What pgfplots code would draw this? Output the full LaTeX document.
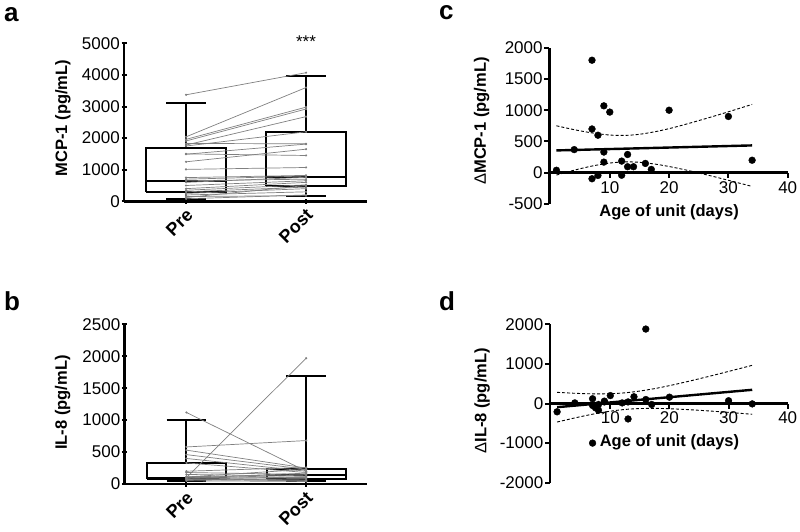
\documentclass[border=0pt]{standalone}
\usepackage{fontspec}
\setmainfont{Liberation Sans}
\usepackage{pgfplots}
\pgfplotsset{compat=1.18}

\pgfplotsset{
  base/.style={
    scale only axis, anchor=south west, clip=false,
    tick style={line width=2pt, black},
    major tick length=5pt, tick align=outside,
    ticklabel style={font=\fontsize{17}{17}\selectfont},
    label style={font=\bfseries\fontsize{16.5}{18}\selectfont},
    /pgf/number format/assume math mode=true,
    /pgf/number format/1000 sep={},
    yticklabel style={inner sep=1.5pt},
  },
  catx/.style={
    axis lines=left,
    axis line style={-, line width=2.6pt},
    x axis line style={-}, y axis line style={-},
    xmin=0.483, xmax=2.508,
    xtick={1,2}, xticklabels={Pre,Post},
    xticklabel style={xshift=6pt, yshift=-6pt, rotate=45, anchor=east, font=\bfseries\fontsize{18}{19}\selectfont},
  },
  bx/.style={draw=black, fill=white, line width=1.9pt, mark=none},
  bl/.style={black, line width=1.9pt, mark=none},
  pair/.style={gray, line width=0.7pt, mark=*, mark size=0.7pt},
  scat/.style={only marks, mark=*, mark size=3.4pt, black},
  fit/.style={black, line width=2.4pt},
  ci/.style={black, line width=0.9pt, dash pattern=on 3pt off 2pt, smooth},
  ageaxis/.style={
    axis y line=left, axis x line=middle,
    axis line style={-, line width=2.6pt},
    tick align=outside,
    xmin=-0.2, xmax=40, xtick={10,20,30,40},
    xlabel={Age of unit (days)},
  },
}
\newcommand{\pr}[2]{\addplot[pair] coordinates {(1,#1)(2,#2)};}

\begin{document}
\begin{tikzpicture}
\path[use as bounding box] (0,0) rectangle (800pt,531pt);

% panel letters
\node[anchor=base west, inner sep=0, font=\bfseries\fontsize{26}{26}\selectfont] at (4pt,509.5pt) {a};
\node[anchor=base west, inner sep=0, font=\bfseries\fontsize{26}{26}\selectfont] at (4pt,221pt) {b};
\node[anchor=base west, inner sep=0, font=\bfseries\fontsize{26}{26}\selectfont] at (439pt,511pt) {c};
\node[anchor=base west, inner sep=0, font=\bfseries\fontsize{26}{26}\selectfont] at (439pt,221pt) {d};

% ---------------- a ----------------
\begin{axis}[base, catx, at={(124pt,329.7pt)}, width=243pt, height=158pt,
  ymin=0, ymax=5000, ytick={0,1000,...,5000},
  ylabel={MCP-1 (pg/mL)},
  ylabel style={at={(axis description cs:-0.251,0.527)}, anchor=center},
]
% Pre box
\addplot[bl] coordinates {(1,84)(1,3101)};
\addplot[bl] coordinates {(0.835,84)(1.165,84)};
\addplot[bl] coordinates {(0.835,3101)(1.165,3101)};
\addplot[bx] coordinates {(0.67,285)(1.33,285)(1.33,1698)(0.67,1698)(0.67,285)};
\addplot[bl] coordinates {(0.67,643)(1.33,643)};
% Post box
\addplot[bl] coordinates {(2,180)(2,3966)};
\addplot[bl] coordinates {(1.835,180)(2.165,180)};
\addplot[bl] coordinates {(1.835,3966)(2.165,3966)};
\addplot[bx] coordinates {(1.67,485)(2.33,485)(2.33,2205)(1.67,2205)(1.67,485)};
\addplot[bl] coordinates {(1.67,780)(2.33,780)};
\pr{3370}{4070}
\pr{2040}{3600}
\pr{1960}{2980}
\pr{1910}{2920}
\pr{1780}{2680}
\pr{1750}{2200}
\pr{1830}{1820}
\pr{1490}{1810}
\pr{1250}{1650}
\pr{1500}{1450}
\pr{1010}{1070}
\pr{750}{820}
\pr{700}{800}
\pr{650}{700}
\pr{600}{760}
\pr{500}{650}
\pr{400}{600}
\pr{350}{520}
\pr{300}{450}
\pr{250}{400}
\pr{200}{300}
\pr{150}{180}
\pr{120}{500}
\pr{80}{200}
\node[anchor=north, inner sep=0, font=\fontsize{17}{17}\selectfont] at (axis cs:2,5230) {***};
\end{axis}

% ---------------- b ----------------
\begin{axis}[base, catx, at={(124.5pt,47pt)}, width=242.5pt, height=159.7pt,
  ymin=0, ymax=2500, ytick={0,500,...,2500},
  ylabel={IL-8 (pg/mL)},
  ylabel style={at={(axis description cs:-0.255,0.51)}, anchor=center},
]
% Pre box
\addplot[bl] coordinates {(1,50)(1,998)};
\addplot[bl] coordinates {(0.835,50)(1.165,50)};
\addplot[bl] coordinates {(0.835,998)(1.165,998)};
\addplot[bx] coordinates {(0.67,78)(1.33,78)(1.33,324)(0.67,324)(0.67,78)};
\addplot[bl] coordinates {(0.67,100)(1.33,100)};
% Post box
\addplot[bl] coordinates {(2,50)(2,1688)};
\addplot[bl] coordinates {(1.835,50)(2.165,50)};
\addplot[bl] coordinates {(1.835,1688)(2.165,1688)};
\addplot[bx] coordinates {(1.67,78)(2.33,78)(2.33,230)(1.67,230)(1.67,78)};
\addplot[bl] coordinates {(1.67,141)(2.33,141)};
\pr{1120}{200}
\pr{100}{1970}
\pr{580}{680}
\pr{530}{250}
\pr{460}{230}
\pr{400}{200}
\pr{330}{180}
\pr{200}{260}
\pr{180}{150}
\pr{150}{120}
\pr{120}{100}
\pr{100}{90}
\pr{90}{140}
\pr{80}{60}
\pr{70}{50}
\pr{60}{80}
\pr{50}{40}
\pr{110}{230}
\pr{95}{170}
\pr{75}{110}
\end{axis}

% ---------------- c ----------------
\begin{axis}[base, ageaxis, at={(549.3pt,327pt)}, width=238.4pt, height=156.3pt,
  ymin=-500, ymax=2000, ytick={-500,0,...,2000},
  ylabel={{\mdseries Δ}MCP-1 (pg/mL)},
  ylabel style={at={(axis description cs:-0.284,0.531)}, anchor=center},
  xlabel style={at={(axis description cs:0.5025,0.2)}, anchor=center, yshift=-40pt, font=\bfseries\fontsize{16.5}{18}\selectfont},
]
\addplot[ci] coordinates {(1,751)(4,689)(7,637)(10,603)(12.5,597)(15,615)(18,663)(21,729)(24,807)(27,889)(30,975)(34,1093)};
\addplot[ci] coordinates {(1,-37)(4,41)(7,107)(10,155)(12.5,173)(15,167)(18,133)(21,81)(24,19)(27,-49)(30,-121)(34,-219)};
\addplot[fit] coordinates {(1,357)(34,437)};
\addplot[scat] coordinates {
 (1,40)(4,370)(7,1800)(7,700)(7,-96)(8,600)(8,-43)(9,1070)(9,331)(9,170)
 (10,970)(12,186)(12,-40)(13,292)(13,96)(14,96)(16,149)(17,53)(20,1000)(30,900)(34,200)
};
\end{axis}

% ---------------- d ----------------
\begin{axis}[base, ageaxis, at={(550pt,48.3pt)}, width=237.7pt, height=158.4pt,
  ymin=-2000, ymax=2000, ytick={-2000,-1000,...,2000},
  ylabel={{\mdseries Δ}IL-8 (pg/mL)},
  ylabel style={at={(axis description cs:-0.286,0.517)}, anchor=center},
  xlabel style={at={(axis description cs:0.5025,0.5)}, anchor=center, yshift=-39pt, font=\bfseries\fontsize{16.5}{18}\selectfont},
]
\addplot[ci] coordinates {(1,282)(4,258)(7,244)(10,248)(12.5,270)(15,315)(18,390)(21,484)(24,588)(27,697)(30,810)(34,964)};
\addplot[ci] coordinates {(1,-468)(4,-364)(7,-270)(10,-194)(12.5,-150)(15,-128)(18,-124)(21,-138)(24,-162)(27,-191)(30,-224)(34,-272)};
\addplot[fit] coordinates {(1,-93)(34,346)};
\addplot[scat] coordinates {
 (1,-210)(4,15)(7,120)(7,-50)(7.5,-110)(8,-170)(8,-25)(9,40)(9,60)(10,200)
 (12,15)(13,-390)(13,40)(14,170)(16,1880)(16,100)(17,-25)(20,160)(30,70)(34,-10)(7,-1000)
};
\end{axis}
\end{tikzpicture}
\end{document}
